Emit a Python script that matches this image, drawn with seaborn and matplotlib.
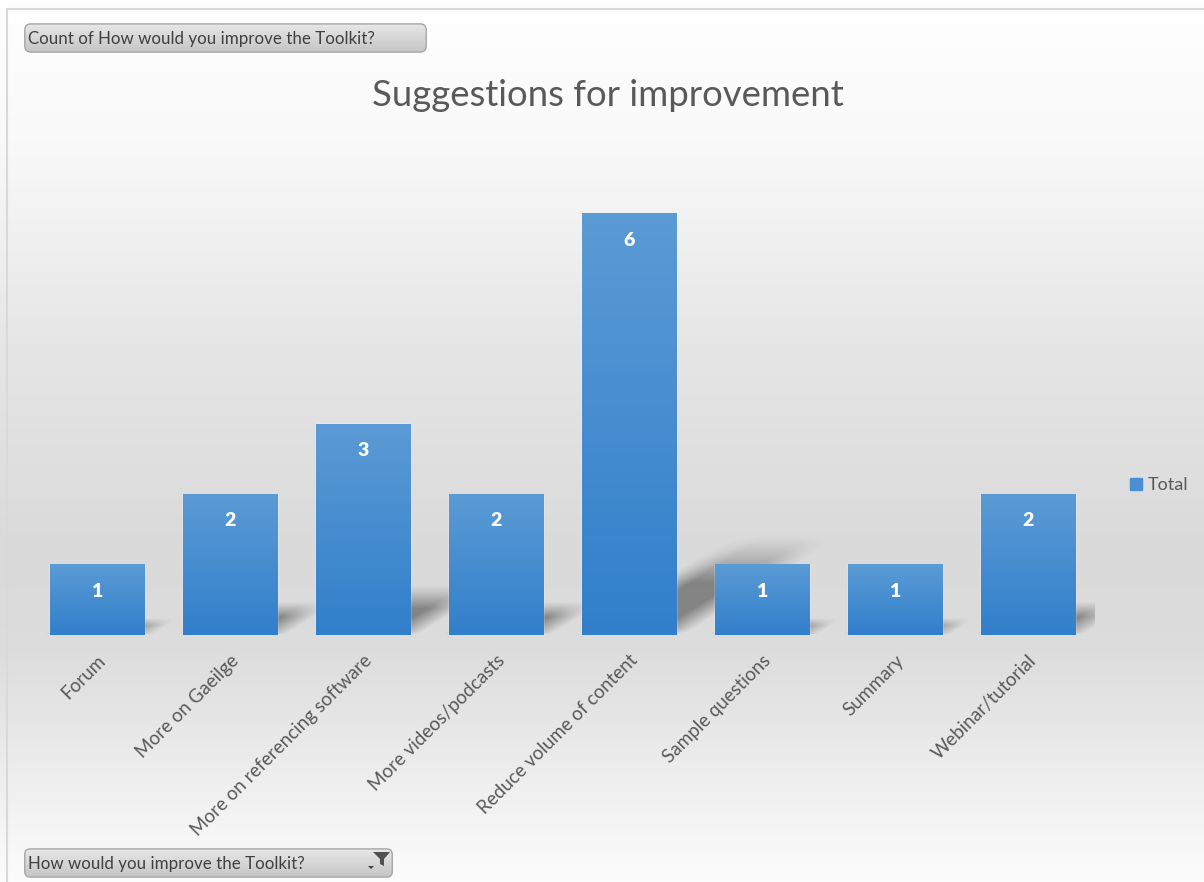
import numpy as np
import matplotlib
matplotlib.use("Agg")
import matplotlib.pyplot as plt
import seaborn as sns
from matplotlib.patches import Patch, FancyBboxPatch, Polygon
from matplotlib.lines import Line2D

categories = ["Forum", "More on Gaeilge", "More on referencing software",
              "More videos/podcasts", "Reduce volume of content",
              "Sample questions", "Summary", "Webinar/tutorial"]
counts = [1, 2, 3, 2, 6, 1, 1, 2]
series_name = "Total"
title = "Suggestions for improvement"
value_button = "Count of How would you improve the Toolkit?"
field_button = "How would you improve the Toolkit?"

W, H = 1204, 882
sns.set_style("white")
plt.rcParams["font.family"] = ["Lato", "DejaVu Sans"]
grey_txt = "#595959"

fig = plt.figure(figsize=(W / 100, H / 100), dpi=100)

# background gradient (white -> grey -> white)
bg = fig.add_axes([0, 0, 1, 1], zorder=-5)
ypx = np.arange(H)
stops_y = [0, 150, 350, 550, 650, 780, H]
stops_v = [1.0, 0.975, 0.90, 0.855, 0.865, 0.935, 0.99]
col = np.interp(ypx, stops_y, stops_v)
bg.imshow(np.repeat(col[:, None, None], 3, axis=2), aspect="auto", extent=[0, 1, 0, 1])
bg.axis("off")

# chart frame lines
fig.add_artist(Line2D([7 / W, 1], [1 - 9 / H, 1 - 9 / H], color="#d9d9d9", lw=1.5))
fig.add_artist(Line2D([7 / W, 7 / W], [0, 1 - 9 / H], color="#d9d9d9", lw=1.5))

ax = fig.add_axes([30.5 / W, 1 - 635 / H, 1064 / W, (635 - 143.6) / H])
ax.set_facecolor("none")

bar_w = 0.707
sns.barplot(x=categories, y=counts, color="#4a8fd4", width=bar_w, ax=ax,
            saturation=1, zorder=3)

xlim = (-0.5, len(categories) - 0.5)
ylim = (0, 7)

# soft perspective shadows behind the bars
nx, ny = 1064, 491
gx = np.linspace(xlim[0], xlim[1], nx)
gy = np.linspace(ylim[1], ylim[0], ny)
XX, YY = np.meshgrid(gx, gy)
alpha = np.zeros_like(XX)
r = 0.845
for i, v in enumerate(counts):
    top = 0.225 * v
    x0 = i - bar_w / 2
    u = (XX - YY * r - x0) / bar_w
    edge = np.clip(np.minimum(u + 0.08, 1.08 - u) / 0.35, 0, 1)
    t = YY / top
    vert = np.clip((1.05 - t) / 0.5, 0, 1) ** 1.2 * np.clip(t / 0.05, 0, 1)
    a = 0.4 * edge * vert
    alpha = np.maximum(alpha, a)
shadow = np.zeros((ny, nx, 4))
shadow[..., 3] = alpha
ax.imshow(shadow, extent=[xlim[0], xlim[1], ylim[0], ylim[1]], aspect="auto", zorder=1)

# gradient fill on bars
top_c = np.array([0x5b, 0x9b, 0xd5]) / 255
bot_c = np.array([0x31, 0x7f, 0xcb]) / 255
for p in ax.patches:
    x, w, h = p.get_x(), p.get_width(), p.get_height()
    n = 100
    t = np.linspace(0, 1, n)[:, None]
    g = top_c * (1 - t) + bot_c * t
    ax.imshow(g[:, None, :], extent=[x, x + w, 0, h], aspect="auto", zorder=4)

for i, v in enumerate(counts):
    ax.annotate(str(v), (i, v), xytext=(0, -19), textcoords="offset points",
                ha="center", va="center", color="white", fontsize=14,
                fontweight="heavy", zorder=6)

ax.set_xlim(*xlim)
ax.set_ylim(*ylim)
ax.set_yticks([])
ax.set_xlabel("")
ax.set_ylabel("")
sns.despine(ax=ax, left=True, bottom=True)
ax.tick_params(axis="x", length=0, pad=12, labelsize=13.5, labelcolor=grey_txt)
plt.setp(ax.get_xticklabels(), rotation=45, ha="right", rotation_mode="anchor")

fig.text(608 / W, 1 - 95 / H, title, ha="center", va="center", fontsize=26.3, color=grey_txt)

fig.legend(handles=[Patch(color="#4a8fd4", label=series_name)], loc="center left",
           bbox_to_anchor=(1114 / W, 1 - 485 / H), frameon=False, handlelength=0.65,
           handleheight=0.65, handletextpad=0.3, fontsize=13, labelcolor=grey_txt)


def button(x0, y0, x1, y1, text):
    bax = fig.add_axes([x0 / W, 1 - y1 / H, (x1 - x0) / W, (y1 - y0) / H], zorder=5)
    bax.set_xlim(0, 1)
    bax.set_ylim(0, 1)
    box = FancyBboxPatch((0.002, 0.03), 0.996, 0.94,
                         boxstyle="round,pad=0,rounding_size=0.015",
                         mutation_aspect=(x1 - x0) / (y1 - y0),
                         fc="none", ec="#a6a6a6", lw=1)
    t = np.linspace(0, 1, 60)[:, None]
    g = np.array([0.91] * 3) * (1 - t) + np.array([0.77] * 3) * t
    im = bax.imshow(g[:, None, :], extent=[0, 1, 0, 1], aspect="auto")
    bax.add_patch(box)
    im.set_clip_path(box)
    bax.axis("off")
    fig.text((x0 + 4) / W, 1 - ((y0 + y1) / 2 + 1) / H, text, ha="left", va="center",
             fontsize=12.2, color="#404040", zorder=6)


button(24, 23, 427, 53, value_button)
button(24, 848, 393, 878, field_button)

# filter icon
def px(pts):
    return [(a / W, 1 - b / H) for a, b in pts]

fig.add_artist(Polygon(px([(373, 852), (390, 852), (384, 859), (384, 866),
                           (380, 864), (380, 859)]), closed=True, fc="#505050",
                       ec="none", zorder=7))
fig.add_artist(Polygon(px([(368, 866), (374, 866), (371, 869)]), closed=True,
                       fc="#404040", ec="none", zorder=7))

fig.savefig("out.png", dpi=100)
